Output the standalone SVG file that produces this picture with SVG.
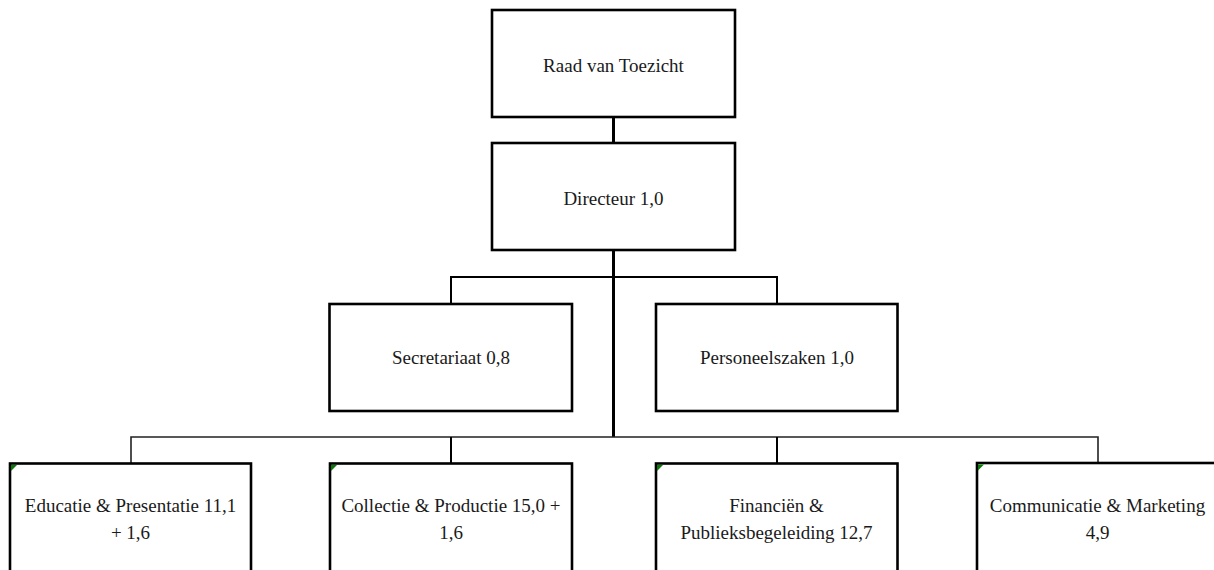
<svg xmlns="http://www.w3.org/2000/svg" width="1214" height="570" viewBox="0 0 1214 570">
<style>
.box{fill:#fff;stroke:#000;stroke-width:2.6}
.t{font-family:"Liberation Serif","Times New Roman",serif;font-size:19px;fill:#1a1a1a;text-anchor:middle}
.c{fill:none;stroke:#000;stroke-width:2}
.thick{stroke-width:3}
.thin{stroke:#222;stroke-width:1.6}
.mark{fill:#0a7a0a}
</style>
<rect width="1214" height="570" fill="#fff"/>
<g id="connectors">
<line class="c thick" x1="613.5" y1="117" x2="613.5" y2="143"/>
<line class="c thick" x1="613.5" y1="250" x2="613.5" y2="437"/>
<polyline class="c" points="451,304 451,277 777,277 777,304"/>
<polyline class="c thin" points="131,463 131,437 1098,437 1098,463"/>
<line class="c" x1="451" y1="437" x2="451" y2="463"/>
<line class="c" x1="777" y1="437" x2="777" y2="463"/>
</g>
<g id="raad">
<rect class="box" x="492" y="10" width="243" height="107"/>
<text class="t" x="613.5" y="71.5">Raad van Toezicht</text>
</g>
<g id="directeur">
<rect class="box" x="492" y="143" width="243" height="107"/>
<text class="t" x="613.5" y="205">Directeur 1,0</text>
</g>
<g id="secretariaat">
<rect class="box" x="329.5" y="304" width="242.5" height="107"/>
<text class="t" x="451" y="364">Secretariaat 0,8</text>
</g>
<g id="personeelszaken">
<rect class="box" x="656" y="304" width="241.5" height="107"/>
<text class="t" x="777" y="364">Personeelszaken 1,0</text>
</g>
<g id="educatie">
<rect class="box" x="10" y="463.5" width="241" height="120"/>
<polygon class="mark" points="11,465 17,465 11,471"/>
<text class="t" x="130.5" y="512">Educatie &amp; Presentatie 11,1</text>
<text class="t" x="130.5" y="539">+ 1,6</text>
</g>
<g id="collectie">
<rect class="box" x="330" y="463.5" width="242" height="120"/>
<polygon class="mark" points="331,465 337,465 331,471"/>
<text class="t" x="451" y="512">Collectie &amp; Productie 15,0 +</text>
<text class="t" x="451" y="539">1,6</text>
</g>
<g id="financien">
<rect class="box" x="656" y="463.5" width="241.5" height="120"/>
<polygon class="mark" points="657,465 663,465 657,471"/>
<text class="t" x="776.5" y="512">Financiën &amp;</text>
<text class="t" x="776.5" y="539">Publieksbegeleiding 12,7</text>
</g>
<g id="communicatie">
<rect class="box" x="977" y="463" width="241" height="120"/>
<polygon class="mark" points="978,464.5 984,464.5 978,470.5"/>
<text class="t" x="1097.5" y="512">Communicatie &amp; Marketing</text>
<text class="t" x="1097.5" y="539">4,9</text>
</g>
</svg>
